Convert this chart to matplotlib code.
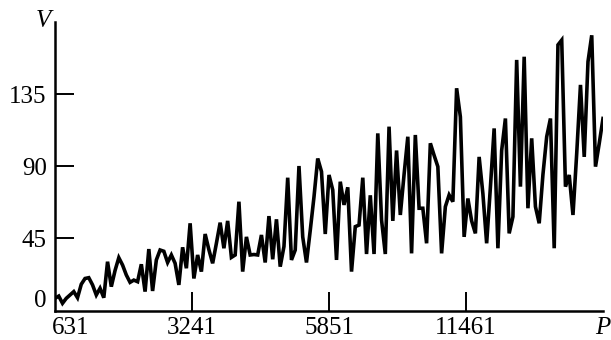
import matplotlib
matplotlib.use("Agg")
import matplotlib.pyplot as plt
import matplotlib.transforms as mtransforms
import numpy as np

# Series values, one per sample in order
values = [
    7.6, 9, 4.5, 7.6, 9.7, 11.8, 8, 16.4, 20, 20.5,
    16, 9.7, 13.9, 8, 30.5, 14.9, 25, 33, 28.4, 22.2,
    17.6, 19, 18, 28.9, 11.8, 38.4, 12.2, 31.6, 37.8, 37,
    30, 34.7, 29.5, 16, 39.5, 26.4, 54.5, 20, 34.7, 24.3,
    47.8, 38, 29.5, 42, 54.9, 38.9, 56, 33.2, 34.7, 68,
    24.3, 46, 34.7, 35, 34.7, 47.2, 30, 59, 32, 57,
    27.4, 40, 83, 31.6, 37.8, 90.3, 46, 30, 50, 71,
    95, 86.8, 47.8, 84.7, 75.3, 31.6, 80.5, 66, 77, 24.3,
    52.4, 53.4, 83, 35.3, 72, 35.3, 110.7, 56.6, 35.3, 114.9,
    56, 100, 59.7, 85, 108.6, 35.7, 109.7, 63.9, 63.9, 42,
    104.5, 97, 89.9, 35.7, 64.9, 72.2, 68, 138.9, 121, 46,
    70, 56, 48.2, 96, 73, 42, 77, 113.8, 38.9, 100,
    120, 48.2, 58.6, 156.6, 77.4, 158.6, 63.9, 107.6, 64.9, 54.5,
    85, 108.6, 120, 38.9, 166, 169, 77.4, 84.7, 59.7, 98.3,
    141, 96, 155.5, 172, 89.9, 104.5, 120,
]

x_tick_labels = ["631", "3241", "5851", "11461", "P"]
y_ticks = [0, 45, 90, 135]
y_max = 180.3

serif = ["Liberation Serif", "DejaVu Serif"]
plt.rcParams["font.family"] = serif

W, H, DPI = 611, 340, 100
fig = plt.figure(figsize=(W / DPI, H / DPI), dpi=DPI)
ax = fig.add_axes([55 / W, (H - 310.5) / H, (603 - 55) / W, (310.5 - 22) / H])

xs = np.arange(len(values))
ax.plot(xs, values, color="black", linewidth=2.6, solid_joinstyle="miter")

ax.set_xlim(0, len(values) - 1)
ax.set_ylim(0, y_max)

for side in ("top", "right"):
    ax.spines[side].set_visible(False)
for side in ("left", "bottom"):
    ax.spines[side].set_linewidth(1.8)

# X ticks evenly spread across the sample index range
x_ticks = np.linspace(0, len(values) - 1, len(x_tick_labels))
ax.set_xticks(x_ticks)
ax.set_xticklabels(x_tick_labels)
ax.set_yticks(y_ticks)
ax.set_yticklabels([str(v) for v in y_ticks])

ax.tick_params(axis="both", direction="in", length=13.5, width=1.4,
               labelsize=18, colors="black")
ax.tick_params(axis="x", pad=5)
ax.tick_params(axis="y", pad=6)

# hide tick marks at the axis ends
xt = ax.xaxis.get_major_ticks()
xt[0].tick1line.set_visible(False)
xt[-1].tick1line.set_visible(False)
yt = ax.yaxis.get_major_ticks()
yt[0].tick1line.set_visible(False)

xlabels = ax.get_xticklabels()
xlabels[0].set_horizontalalignment("left")
xlabels[0].set_transform(xlabels[0].get_transform() +
                         mtransforms.ScaledTranslation(-3 / DPI, 0, fig.dpi_scale_trans))
xlabels[-1].set_fontstyle("italic")

ylabels = ax.get_yticklabels()
ylabels[0].set_transform(ylabels[0].get_transform() +
                         mtransforms.ScaledTranslation(0, 12 / DPI, fig.dpi_scale_trans))

# axis name at the top of the vertical axis
ax.text(0, 1, "V", transform=ax.transAxes +
        mtransforms.ScaledTranslation(-12 / DPI, 1 / DPI, fig.dpi_scale_trans),
        ha="center", va="center", fontsize=18, fontstyle="italic",
        clip_on=False)

fig.savefig("out.png", dpi=DPI)
